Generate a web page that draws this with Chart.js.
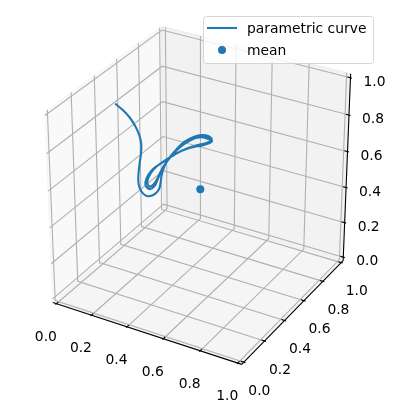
<!DOCTYPE html>
<html>
<head>
<meta charset="utf-8">
<script src="https://cdn.jsdelivr.net/npm/chart.js@4"></script>
<style>
    html, body { margin: 0; padding: 0; background: #ffffff; }
    canvas { display: block; }
</style>
</head>
<body>
<canvas id="chart3d" width="396" height="414"></canvas>
<script>
// 曲线数据
const curveX = [0.050,0.086,0.122,0.156,0.183,0.202,0.212,0.219,0.228,0.239,0.257,0.280,0.301,0.319,0.329,0.328,0.323,0.324,0.334,0.353,0.377,0.410,0.442,0.471,0.488,0.479,0.448,0.409,0.372,0.340,0.310,0.282,0.267,0.264,0.274,0.293,0.307,0.312,0.316,0.326,0.344,0.370,0.405,0.444,0.476,0.486,0.470,0.434,0.394,0.358,0.324,0.293,0.276,0.271,0.278,0.292,0.305,0.313,0.322,0.342,0.367,0.400,0.438,0.474,0.491,0.476,0.442];
const curveY = [0.474,0.479,0.480,0.475,0.466,0.452,0.432,0.404,0.379,0.363,0.355,0.356,0.367,0.384,0.401,0.418,0.437,0.462,0.491,0.525,0.560,0.592,0.616,0.630,0.630,0.616,0.591,0.562,0.531,0.497,0.464,0.431,0.404,0.384,0.376,0.381,0.398,0.418,0.443,0.474,0.509,0.549,0.586,0.614,0.628,0.627,0.610,0.583,0.551,0.517,0.480,0.444,0.416,0.393,0.384,0.388,0.408,0.435,0.464,0.503,0.540,0.578,0.608,0.624,0.628,0.611,0.585];
const curveZ = [0.852,0.827,0.797,0.761,0.724,0.686,0.648,0.599,0.554,0.521,0.493,0.475,0.472,0.482,0.500,0.526,0.558,0.595,0.630,0.664,0.696,0.717,0.725,0.719,0.706,0.692,0.682,0.672,0.657,0.634,0.610,0.586,0.558,0.530,0.510,0.501,0.514,0.540,0.575,0.612,0.648,0.686,0.711,0.719,0.712,0.703,0.692,0.682,0.668,0.648,0.623,0.595,0.568,0.537,0.518,0.512,0.530,0.565,0.599,0.641,0.675,0.703,0.715,0.708,0.700,0.688,0.678];
const meanPoint = [0.5, 0.5, 0.5];
const tickValues = [0, 0.2, 0.4, 0.6, 0.8, 1];
const tickLabels = ["0.0", "0.2", "0.4", "0.6", "0.8", "1.0"];
const curveLabel = "parametric curve";
const meanLabel = "mean";

// 视角, 和 matplotlib 默认一样
const elev = 30 * Math.PI / 180;
const azim = -60 * Math.PI / 180;
const viewDist = 10;
const lo = -1 / 48;   // pane 比 0..1 多出一点
const hi = 1 + 1 / 48;
const tickIn = 0.0167;
const tickOut = 0.0083;

const projScale = 2093;
const centerX = 200.3;
const centerY = 189.3;
const chartW = 396;
const chartH = 414;

const blue = "#1f77b4";
const gridColor = "#b0b0b0";

/**
 * 三维坐标投影到图表的二维坐标
 */
function project(x, y, z) {
    const px = x - 0.5, py = y - 0.5, pz = z - 0.5;
    const ce = Math.cos(elev), se = Math.sin(elev);
    const ca = Math.cos(azim), sa = Math.sin(azim);
    const ux = -sa * px + ca * py;
    const vy = -se * ca * px - se * sa * py + ce * pz;
    const d = viewDist - (ce * ca * px + ce * sa * py + se * pz);
    return {x: ux / d, y: vy / d};
}

function lineSet(points, color, width) {
    return {
        data: points.map(function (p) { return project(p[0], p[1], p[2]); }),
        showLine: true,
        pointRadius: 0,
        borderColor: color,
        borderWidth: width,
        borderCapStyle: "butt",
        fill: false
    };
}

function paneSet(points, faceColor, edgeColor) {
    let set = lineSet(points.concat([points[0]]), edgeColor, 1);
    set.backgroundColor = faceColor;
    set.fill = "shape";
    return set;
}

// 从后往前排, 后面再 reverse (Chart.js 先画最后一个)
let datasets = [];
datasets.push(paneSet([[lo, lo, lo], [lo, hi, lo], [lo, hi, hi], [lo, lo, hi]], "#f9f9f9", "#f5f5f5"));
datasets.push(paneSet([[lo, hi, lo], [hi, hi, lo], [hi, hi, hi], [lo, hi, hi]], "#f2f2f2", "#ececec"));
datasets.push(paneSet([[lo, lo, lo], [hi, lo, lo], [hi, hi, lo], [lo, hi, lo]], "#f5f5f5", "#f0f0f0"));

tickValues.forEach(function (t) {
    datasets.push(lineSet([[t, lo, lo], [t, hi, lo], [t, hi, hi]], gridColor, 1.1));
    datasets.push(lineSet([[hi, t, lo], [lo, t, lo], [lo, t, hi]], gridColor, 1.1));
    datasets.push(lineSet([[lo, lo, t], [lo, hi, t], [hi, hi, t]], gridColor, 1.1));
});

datasets.push(lineSet([[lo, lo, lo], [hi, lo, lo]], "#000000", 1.1));
datasets.push(lineSet([[hi, lo, lo], [hi, hi, lo]], "#000000", 1.1));
datasets.push(lineSet([[hi, hi, lo], [hi, hi, hi]], "#000000", 1.1));

tickValues.forEach(function (t) {
    datasets.push(lineSet([[t, lo - tickOut, lo], [t, lo + tickIn, lo]], "#000000", 1.1));
    datasets.push(lineSet([[hi + tickOut, t, lo], [hi - tickIn, t, lo]], "#000000", 1.1));
    datasets.push(lineSet([[hi + tickOut, hi, t], [hi - tickIn, hi, t]], "#000000", 1.1));
});

let curveSet = lineSet(curveX.map(function (v, i) { return [v, curveY[i], curveZ[i]]; }), blue, 2.08);
curveSet.label = curveLabel;
curveSet.tension = 0.4;
curveSet.borderCapStyle = "square";
curveSet.borderJoinStyle = "round";
datasets.push(curveSet);

datasets.push({
    label: meanLabel,
    data: [project(meanPoint[0], meanPoint[1], meanPoint[2])],
    showLine: false,
    pointRadius: 4,
    pointBorderWidth: 0,
    backgroundColor: blue
});

// 刻度文字, 相对刻度点的偏移
const labelOffset = {x: [-10.5, 33.5], y: [15.5, 29], z: [24, 4.5]};
const tickFont = "13.89px 'DejaVu Sans'";

const tickLabelPlugin = {
    id: "tickLabelPlugin",
    afterDatasetsDraw: function (chart) {
        const ctx = chart.ctx;
        const sx = chart.scales.x, sy = chart.scales.y;
        ctx.save();
        ctx.font = tickFont;
        ctx.fillStyle = "#000000";
        ctx.textAlign = "center";
        ctx.textBaseline = "middle";
        function put(p, off, text) {
            ctx.fillText(text, sx.getPixelForValue(p.x) + off[0], sy.getPixelForValue(p.y) + off[1]);
        }
        tickValues.forEach(function (t, i) {
            put(project(t, lo, lo), labelOffset.x, tickLabels[i]);
            put(project(hi, t, lo), labelOffset.y, tickLabels[i]);
            put(project(hi, hi, t), labelOffset.z, tickLabels[i]);
        });
        ctx.restore();
    }
};

// 图例画在最上层
const legendPlugin = {
    id: "legendPlugin",
    afterDraw: function (chart) {
        const ctx = chart.ctx;
        ctx.save();
        ctx.beginPath();
        ctx.roundRect(203.5, 16.5, 170, 47, 3);
        ctx.fillStyle = "rgba(255,255,255,0.8)";
        ctx.fill();
        ctx.strokeStyle = "rgba(204,204,204,0.8)";
        ctx.lineWidth = 1;
        ctx.stroke();

        ctx.beginPath();
        ctx.moveTo(207, 28);
        ctx.lineTo(237, 28);
        ctx.strokeStyle = blue;
        ctx.lineWidth = 2.08;
        ctx.stroke();

        ctx.beginPath();
        ctx.arc(222, 50, 4, 0, Math.PI * 2);
        ctx.fillStyle = blue;
        ctx.fill();

        ctx.font = tickFont;
        ctx.fillStyle = "#000000";
        ctx.textAlign = "left";
        ctx.textBaseline = "alphabetic";
        ctx.fillText(curveLabel, 247, 33);
        ctx.fillText(meanLabel, 247, 55);
        ctx.restore();
    }
};

new Chart(document.getElementById("chart3d").getContext("2d"), {
    type: "scatter",
    data: {datasets: datasets.slice().reverse()},
    options: {
        responsive: false,
        animation: false,
        devicePixelRatio: 1,
        events: [],
        layout: {padding: 0, autoPadding: false},
        plugins: {legend: {display: false}, tooltip: {enabled: false}},
        scales: {
            x: {type: "linear", display: false, min: -centerX / projScale, max: (chartW - centerX) / projScale},
            y: {type: "linear", display: false, min: (centerY - chartH) / projScale, max: centerY / projScale}
        }
    },
    plugins: [tickLabelPlugin, legendPlugin]
});
</script>
</body>
</html>
